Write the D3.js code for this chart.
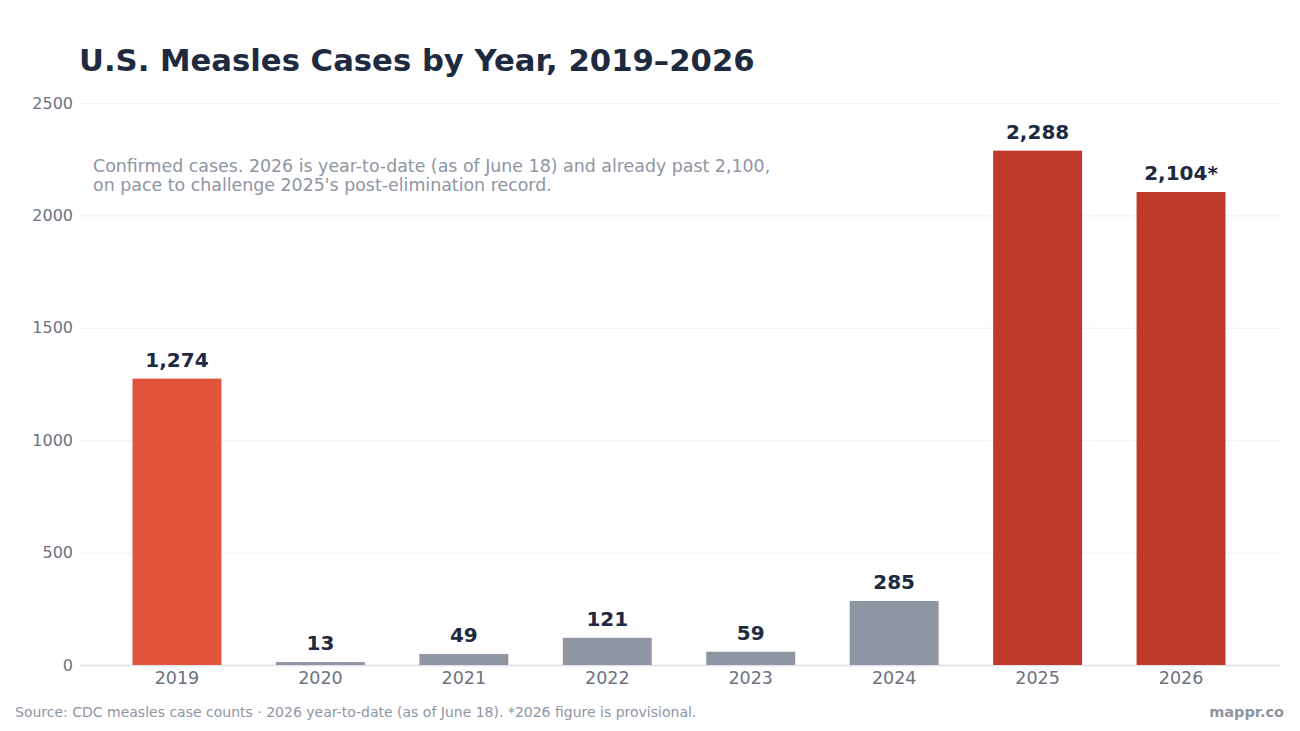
<!DOCTYPE html>
<html><head><meta charset="utf-8">
<script src="https://cdn.jsdelivr.net/npm/d3@7"></script>
<style>body{margin:0;background:#fff;font-family:"DejaVu Sans",sans-serif;}</style>
</head><body><svg id="c" width="1300" height="731"></svg>
<script>
const years = ["2019","2020","2021","2022","2023","2024","2025","2026"];
const cases = [1274, 13, 49, 121, 59, 285, 2288, 2104];
const labels = ["1,274","13","49","121","59","285","2,288","2,104*"];
const barColors = ["#e2553c","#8e95a3","#8e95a3","#8e95a3","#8e95a3","#8e95a3","#c0392b","#c0392b"];
const yTicks = [0,500,1000,1500,2000,2500];

const svg = d3.select("#c");
const L = 80, R = 1280, T = 103, B = 665;
const x = d3.scaleBand().domain(years).range([78,R]).paddingInner(0.38).paddingOuter(0.38);
const y = d3.scaleLinear().domain([0,2500]).range([B,T]);

svg.append("text").attr("x",79).attr("y",71).attr("font-size",30.7).attr("font-weight","bold")
  .attr("fill","#1e2a3f").text("U.S. Measles Cases by Year, 2019–2026");

const yAxis = svg.append("g").attr("transform",`translate(${L},0)`)
  .call(d3.axisLeft(y).tickValues(yTicks).tickSize(-(R-L)).tickFormat(d3.format("d")));
yAxis.select(".domain").remove();
yAxis.selectAll(".tick line").attr("stroke",d=>d===0?"#e3e5ea":"#eef0f3").attr("stroke-width",d=>d===0?2:1);
yAxis.selectAll(".tick text").attr("x",-7).attr("font-size",16).attr("fill","#6b7280").attr("font-family","DejaVu Sans");

svg.append("g").selectAll("rect").data(years).join("rect")
  .attr("x",d=>x(d)).attr("width",x.bandwidth())
  .attr("y",(d,i)=>y(cases[i])).attr("height",(d,i)=>B-y(cases[i]))
  .attr("fill",(d,i)=>barColors[i]);

svg.append("g").selectAll("text").data(years).join("text")
  .attr("x",d=>x(d)+x.bandwidth()/2).attr("y",(d,i)=>y(cases[i])-12)
  .attr("text-anchor","middle").attr("font-size",20).attr("font-weight","bold")
  .attr("fill","#1e2a3f").text((d,i)=>labels[i]);

const xAxis = svg.append("g").attr("transform",`translate(0,${B})`)
  .call(d3.axisBottom(x).tickSize(0).tickPadding(7));
xAxis.select(".domain").remove();
xAxis.selectAll(".tick text").attr("font-size",17.5).attr("fill","#6b7280").attr("font-family","DejaVu Sans");

const sub = svg.append("text").attr("x",93).attr("y",172).attr("font-size",17.4).attr("fill","#8e95a3");
sub.append("tspan").attr("x",93).text("Confirmed cases. 2026 is year-to-date (as of June 18) and already past 2,100,");
sub.append("tspan").attr("x",93).attr("dy",18.5).text("on pace to challenge 2025's post-elimination record.");

svg.append("text").attr("x",15).attr("y",717).attr("font-size",14).attr("fill","#8e95a3")
  .text("Source: CDC measles case counts · 2026 year-to-date (as of June 18). *2026 figure is provisional.");
svg.append("text").attr("x",1284).attr("y",717).attr("text-anchor","end").attr("font-size",14.5)
  .attr("font-weight","bold").attr("fill","#8e95a3").text("mappr.co");
</script></body></html>
